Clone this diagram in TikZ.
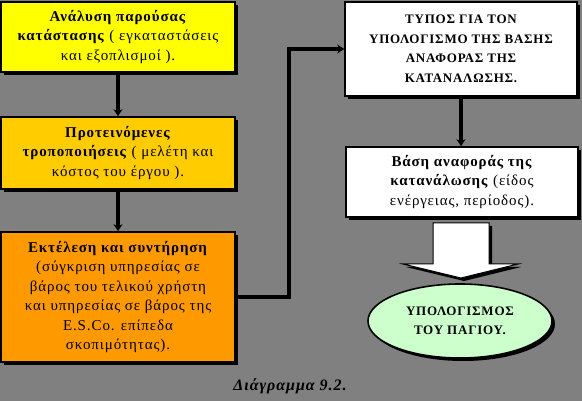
\documentclass[tikz,border=0pt]{standalone}
\usepackage{fontspec}
\setmainfont[LetterSpace=6]{Liberation Serif}
\usetikzlibrary{shadows,arrows.meta,shapes.geometric}
\definecolor{bg}{RGB}{128,128,128}
\definecolor{yel}{RGB}{255,255,0}
\definecolor{gold}{RGB}{255,204,0}
\definecolor{orng}{RGB}{255,153,0}
\definecolor{mint}{RGB}{204,255,204}
\begin{document}
\begin{tikzpicture}[x=1pt,y=-1pt,
  shad/.style={drop shadow={shadow xshift=3pt,shadow yshift=-3pt,fill=black,opacity=1}},
  box/.style={draw=black,line width=1.6pt,align=center,inner sep=0pt,shad,
    font=\fontsize{15}{19.5}\selectfont},
  capbox/.style={box,font=\bfseries\fontsize{13}{19.5}\selectfont},
  conn/.style={draw=black,line width=3.5pt,-{Stealth[length=7pt,width=9pt]}},
  blockarrow/.style={draw=black,line width=1pt,fill=white,shad}]
\useasboundingbox (0,0) rectangle (582,401);
\fill[bg] (0,0) rectangle (582,401);

\node[box,fill=yel,minimum width=234pt,minimum height=70pt] (b1) at (118,37)
  {\textbf{Ανάλυση παρούσας}\\\textbf{κατάστασης} ( εγκαταστάσεις\\και εξοπλισμοί ).};
\node[box,fill=gold,minimum width=234pt,minimum height=72pt] (b2) at (118,153)
  {\textbf{Προτεινόμενες}\\\textbf{τροποποιήσεις} ( μελέτη και\\κόστος του έργου ).};
\node[box,fill=orng,minimum width=234pt,minimum height=130pt] (b3) at (118,297)
  {\textbf{Εκτέλεση και συντήρηση}\\(σύγκριση υπηρεσίας σε\\βάρος του τελικού χρήστη\\και υπηρεσίας σε βάρος της\\E.S.Co. επίπεδα\\σκοπιμότητας).};
\node[capbox,fill=white,minimum width=232pt,minimum height=94pt] (b4) at (461,49)
  {ΤΥΠΟΣ ΓΙΑ ΤΟΝ\\ΥΠΟΛΟΓΙΣΜΟ ΤΗΣ ΒΑΣΗΣ\\ΑΝΑΦΟΡΑΣ ΤΗΣ\\ΚΑΤΑΝΑΛΩΣΗΣ.};
\node[box,fill=white,minimum width=232pt,minimum height=70pt] (b5) at (462,182)
  {\textbf{Βάση αναφοράς της}\\\textbf{κατανάλωσης} (είδος\\ενέργειας, περίοδος).};
\node[ellipse,draw=black,line width=1.6pt,fill=mint,shad,align=center,inner sep=0pt,
  minimum width=184pt,minimum height=74pt,font=\bfseries\fontsize{13}{19.5}\selectfont] (e) at (460,321)
  {ΥΠΟΛΟΓΙΣΜΟΣ\\ΤΟΥ ΠΑΓΙΟΥ.};

\draw[conn] (b1.south) -- (b2.north);
\draw[conn] (b2.south) -- (b3.north);
\draw[conn] (b3.east) -- ++(53,0) |- (b4.west);
\draw[conn] (b4.south) -- (b4.south |- b5.north);

\draw[blockarrow] (433,223) -- (489,223) -- (489,264) -- (518,264) -- (461,278)
  -- (403,264) -- (433,264) -- cycle;

\node[font=\bfseries\itshape\fontsize{16}{18}\selectfont] (cap) at (290,386) {Διάγραμμα 9.2.};
\end{tikzpicture}
\end{document}
